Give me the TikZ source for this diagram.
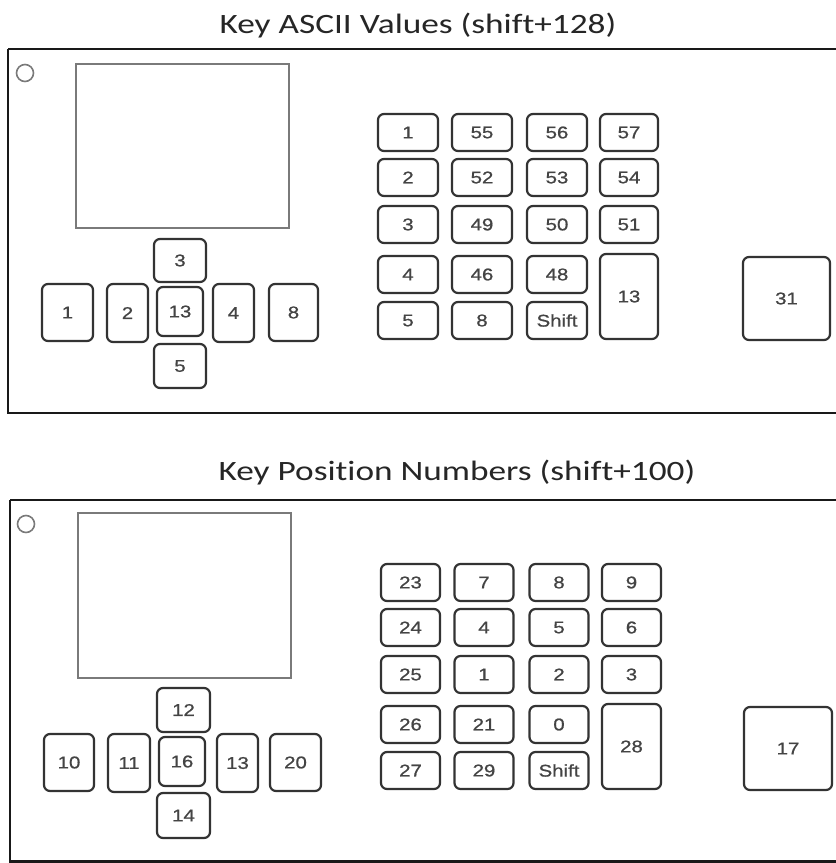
\documentclass[tikz,border=0pt]{standalone}
\usepackage{fontspec}
\setmainfont{Carlito}
\newfontfamily\keyfont[FakeStretch=1.2,FakeBold=0.8]{Liberation Sans}
\newfontfamily\titlefont[FakeStretch=1.26,Ligatures=NoCommon]{Carlito}
\definecolor{keyline}{HTML}{333333}
\definecolor{keytext}{HTML}{444444}
\definecolor{scrline}{HTML}{7A7A7A}
\tikzset{
  keybox/.style={draw=keyline, line width=2.2pt, rounded corners=6pt, rectangle,
    inner sep=0pt, text=keytext, font=\keyfont\fontsize{17}{17}\selectfont},
  panel/.style={draw=black!90, line width=2.8pt},
  screen/.style={draw=scrline, line width=1.6pt},
  led/.style={draw=scrline, line width=1.6pt},
  title/.style={font=\titlefont\fontsize{28}{30}\selectfont, text=black!85, anchor=base, inner sep=0pt}
}
\newcommand\kk[6]{\node[keybox, minimum width=#4pt, minimum height=#5pt] (#1) at (#2,#3) {#6};}
\begin{document}
\begin{tikzpicture}[x=1pt,y=-1pt]
\useasboundingbox (0,0) rectangle (836,863);
\fill[white] (0,0) rectangle (836,863);
% ---------- top panel ----------
\node[title] (t1) at (418,33) {Key ASCII Values (shift+128)};
\draw[panel] (8,49) -- (860,49) (8,49) -- (8,413) -- (860,413);
\draw[led] (25,73) circle (8.5);
\draw[screen] (76,64) rectangle (289,228);
\kk{a3}{180}{260.5}{52}{43}{3}
\kk{a13}{180}{311.5}{46}{49}{13}
\kk{a5}{180}{366}{52}{44}{5}
\kk{a1}{67.5}{312.5}{51}{57}{1}
\kk{a2}{127.5}{313}{41}{58}{2}
\kk{a4}{233.5}{313}{41}{58}{4}
\kk{a8}{293.5}{312.5}{49}{57}{8}
% keypad
\kk{p11}{408}{132.5}{60}{37}{1}
\kk{p12}{482}{132.5}{60}{37}{55}
\kk{p13}{557}{132.5}{60}{37}{56}
\kk{p14}{629}{132.5}{58}{37}{57}
\kk{p21}{408}{177.5}{60}{37}{2}
\kk{p22}{482}{177.5}{60}{37}{52}
\kk{p23}{557}{177.5}{60}{37}{53}
\kk{p24}{629}{177.5}{58}{37}{54}
\kk{p31}{408}{224.5}{60}{37}{3}
\kk{p32}{482}{224.5}{60}{37}{49}
\kk{p33}{557}{224.5}{60}{37}{50}
\kk{p34}{629}{224.5}{58}{37}{51}
\kk{p41}{408}{274.5}{60}{37}{4}
\kk{p42}{482}{274.5}{60}{37}{46}
\kk{p43}{557}{274.5}{60}{37}{48}
\kk{p51}{408}{320.5}{60}{37}{5}
\kk{p52}{482}{320.5}{60}{37}{8}
\kk{p53}{557}{320.5}{60}{37}{Shift}
\kk{pbig}{629}{296.5}{58}{85}{13}
\kk{a31}{786.5}{298.5}{87}{83}{31}
% ---------- bottom panel ----------
\node[title] (t2) at (457,480) {Key Position Numbers (shift+100)};
\draw[panel] (10,500) -- (860,500) (10,500) -- (10,861.5) -- (860,861.5);
\draw[led] (26,524) circle (8.5);
\draw[screen] (78,513) rectangle (291,678);
\kk{b12}{183.5}{710}{53}{44}{12}
\kk{b16}{182}{761.5}{46}{49}{16}
\kk{b14}{183.5}{815.5}{53}{45}{14}
\kk{b10}{69}{762.5}{50}{57}{10}
\kk{b11}{129}{763}{42}{58}{11}
\kk{b13}{237.5}{763}{41}{58}{13}
\kk{b20}{295.5}{762.5}{51}{57}{20}
% keypad
\kk{q11}{410.5}{582.5}{59}{37}{23}
\kk{q12}{484}{582.5}{59}{37}{7}
\kk{q13}{559}{582.5}{59}{37}{8}
\kk{q14}{631.5}{582.5}{59}{37}{9}
\kk{q21}{410.5}{627.5}{59}{37}{24}
\kk{q22}{484}{627.5}{59}{37}{4}
\kk{q23}{559}{627.5}{59}{37}{5}
\kk{q24}{631.5}{627.5}{59}{37}{6}
\kk{q31}{410.5}{674.5}{59}{37}{25}
\kk{q32}{484}{674.5}{59}{37}{1}
\kk{q33}{559}{674.5}{59}{37}{2}
\kk{q34}{631.5}{674.5}{59}{37}{3}
\kk{q41}{410.5}{724.5}{59}{37}{26}
\kk{q42}{484}{724.5}{59}{37}{21}
\kk{q43}{559}{724.5}{59}{37}{0}
\kk{q51}{410.5}{770.5}{59}{37}{27}
\kk{q52}{484}{770.5}{59}{37}{29}
\kk{q53}{559}{770.5}{59}{37}{Shift}
\kk{qbig}{631.5}{746.5}{59}{85}{28}
\kk{b17}{788}{748.5}{88}{83}{17}
\end{tikzpicture}
\end{document}
